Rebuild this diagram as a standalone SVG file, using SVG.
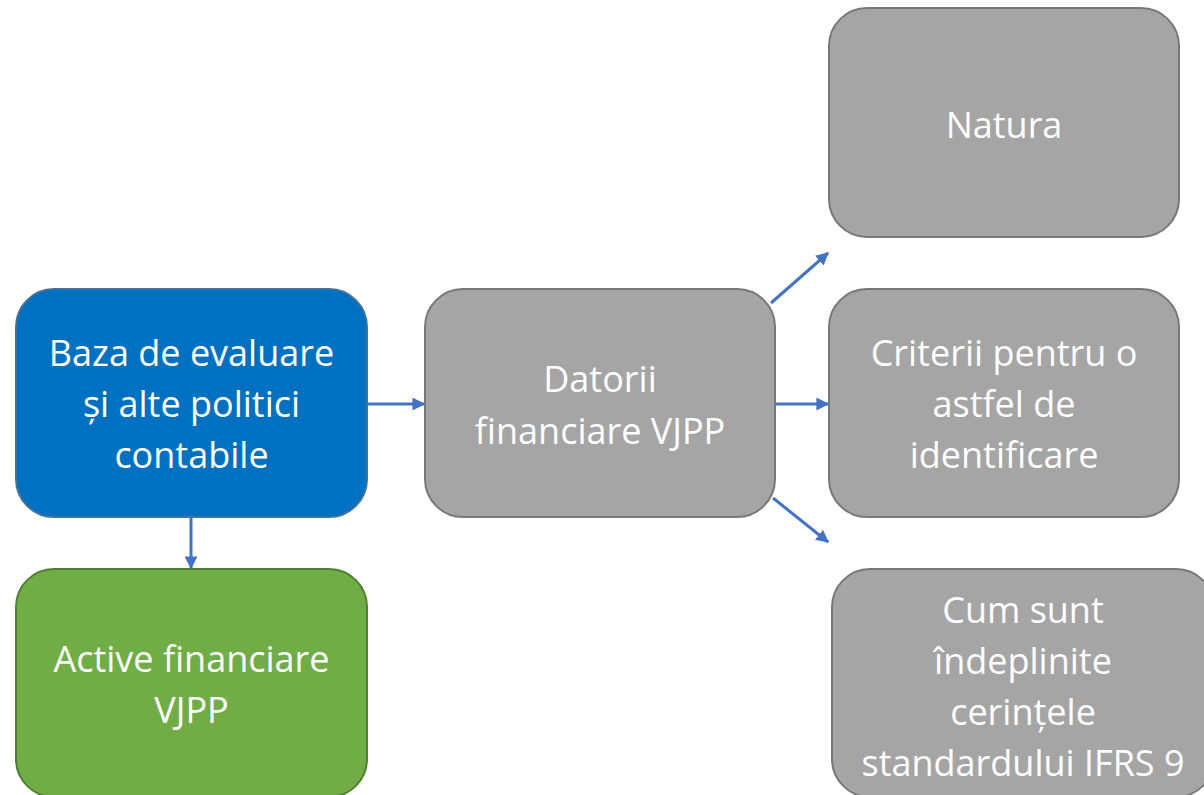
<svg xmlns="http://www.w3.org/2000/svg" width="1204" height="795" viewBox="0 0 1204 795">
<defs>
<style>
.box{stroke-width:2}
.blue{fill:#0070C0;stroke:#41719C}
.green{fill:#70AD47;stroke:#507E32}
.gray{fill:#A5A5A5;stroke:#787878}
.t{font-family:"Open Sans",Lato,sans-serif;font-size:36px;fill:#FFFFFF;text-anchor:middle}
.c{stroke:#4472C4;stroke-width:3;fill:none;marker-end:url(#ah)}
</style>
<marker id="ah" viewBox="0 0 10 10" refX="9" refY="5" markerWidth="4.3" markerHeight="4.3" markerUnits="strokeWidth" orient="auto">
<path d="M0,0 L10,5 L0,10 z" fill="#4472C4"/>
</marker>
</defs>
<rect width="1204" height="795" fill="#FFFFFF"/>
<g id="connectors">
<line class="c" x1="367" y1="404" x2="424" y2="404"/>
<line class="c" x1="191" y1="517" x2="191" y2="568"/>
<line class="c" x1="775" y1="404" x2="828" y2="404"/>
<line class="c" x1="771" y1="303" x2="828" y2="253"/>
<line class="c" x1="773" y1="498" x2="828" y2="542"/>
</g>
<g id="baza">
<rect class="box blue" x="16" y="289" width="351" height="228" rx="38"/>
<text class="t" x="191.5" y="366">Baza de evaluare</text>
<text class="t" x="191.5" y="417">și alte politici</text>
<text class="t" x="191.5" y="468">contabile</text>
</g>
<g id="active">
<rect class="box green" x="16" y="569" width="351" height="228" rx="38"/>
<text class="t" x="191.5" y="672">Active financiare</text>
<text class="t" x="191.5" y="723">VJPP</text>
</g>
<g id="datorii">
<rect class="box gray" x="425" y="289" width="350" height="228" rx="38"/>
<text class="t" x="600" y="392">Datorii</text>
<text class="t" x="600" y="444">financiare VJPP</text>
</g>
<g id="natura">
<rect class="box gray" x="829" y="8" width="350" height="229" rx="38"/>
<text class="t" x="1004" y="138">Natura</text>
</g>
<g id="criterii">
<rect class="box gray" x="829" y="289" width="350" height="228" rx="38"/>
<text class="t" x="1004" y="366">Criterii pentru o</text>
<text class="t" x="1004" y="417">astfel de</text>
<text class="t" x="1004" y="468">identificare</text>
</g>
<g id="cum">
<rect class="box gray" x="832" y="569" width="382" height="228" rx="38"/>
<text class="t" x="1023" y="623">Cum sunt</text>
<text class="t" x="1023" y="674">îndeplinite</text>
<text class="t" x="1023" y="725">cerințele</text>
<text class="t" x="1023" y="776">standardului IFRS 9</text>
</g>
</svg>
